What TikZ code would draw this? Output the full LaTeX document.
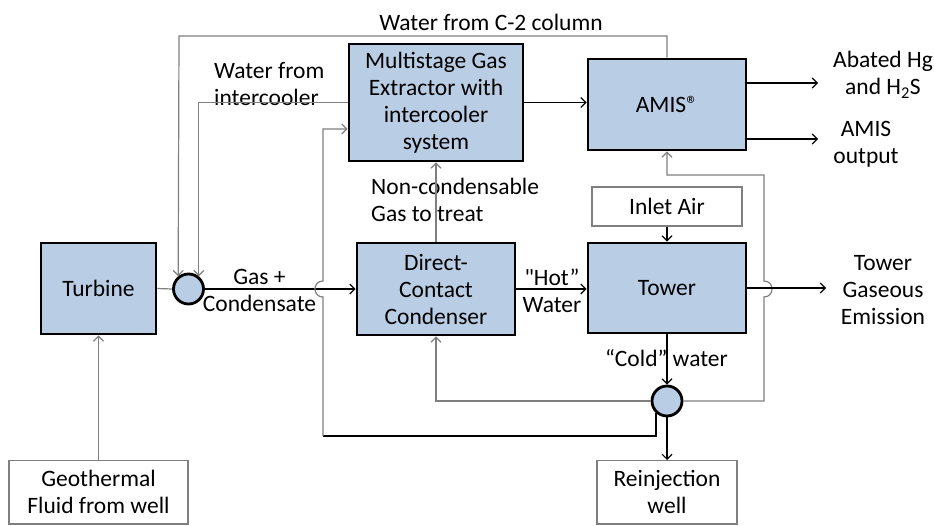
\documentclass[tikz,border=0pt]{standalone}
\usepackage{fontspec}
\setmainfont{Carlito}
\newfontfamily\plainq{Carlito}[Ligatures=TeXOff]
\usetikzlibrary{arrows.meta}
\definecolor{boxblue}{HTML}{B9CDE5}
\definecolor{lg}{HTML}{7F7F7F}
\begin{document}
\begin{tikzpicture}[x=1pt,y=-1pt,
  txt/.style={font=\fontsize{23.5}{27}\selectfont, inner sep=0pt, align=center},
  blk/.style={txt, draw=black, line width=2.8pt, fill=boxblue, rectangle},
  wbox/.style={txt, draw=lg, line width=1.3pt, fill=white, rectangle},
  mix/.style={circle, draw=black, line width=2.8pt, fill=boxblue, minimum size=30pt, inner sep=0pt},
  ln/.style={line width=1.2pt, draw=lg},
  bl/.style={line width=1.2pt, draw=black},
  arr/.style={-{Straight Barb[length=5pt,width=10pt]}},
]
\useasboundingbox (0,0) rectangle (934,525);
\clip (0,0) rectangle (934,525);
\fill[white] (0,0) rectangle (934,525);

% blocks
\node[blk, minimum width=115pt, minimum height=91pt] (turb) at (98.5,288.5) {Turbine};
\node[blk, minimum width=174pt, minimum height=117pt] (mge) at (436,102.5) {Multistage Gas\\Extractor with\\intercooler\\system};
\node[blk, minimum width=158pt, minimum height=91pt] (amis) at (667,104.5) {AMIS®};
\node[blk, minimum width=158pt, minimum height=92pt] (dcc) at (436,289) {Direct-\\Contact\\Condenser};
\node[blk, minimum width=158pt, minimum height=90pt] (tower) at (667,288) {Tower};
\node[wbox, minimum width=150pt, minimum height=39pt] (inlet) at (667,206.5) {Inlet Air};
\node[wbox, minimum width=179pt, anchor=north, inner ysep=10pt] (geo) at (98.5,460) {Geothermal\\Fluid from well};
\node[wbox, minimum width=140pt, anchor=north, inner ysep=10pt] (reinj) at (667,460) {Reinjection\\well};
\node[mix] (c1) at (188.5,289) {};
\node[mix] (c2) at (667,401) {};

% labels
\node[txt] (lc2) at (491,22) {Water from C-2 column};
\node[txt, align=left, anchor=west] (lic) at (214,84) {Water from\\intercooler};
\node[txt] (lgc) at (259.5,290) {Gas +\\Condensate};
\node[txt, align=left, anchor=west] (lncg) at (371,200) {Non-condensable\\Gas to treat};
\node[txt] (lhot) at (552,291) {{\plainq"}Hot”\\Water};
\node[txt] (lcold) at (666.5,358) {“Cold” water};
\node[txt] (labat) at (883,75) {Abated Hg\\and H\textsubscript{2}S};
\node[txt] (lout) at (866,144) {AMIS\\output};
\node[txt] (lgas) at (883,290) {Tower\\Gaseous\\Emission};

% coordinates
\coordinate (t1) at (667,36);
\coordinate (t2) at (179,36);
\coordinate (o1) at (818,83);
\coordinate (o2) at (818,139);
\coordinate (r1) at (764,401);
\coordinate (r2) at (764,297);
\coordinate (r3) at (764,281);
\coordinate (r4) at (764,175);
\coordinate (r5) at (667,175);
\coordinate (e1) at (826,288);
\coordinate (d1) at (436,401);
\coordinate (b0) at (323,436);
\coordinate (h1) at (323,297);
\coordinate (h2) at (323,281);
\coordinate (m1) at (323,129);

% connectors
\draw[ln, arr] (geo) -- (turb);
\draw[ln] (turb.east) -- (c1.west);
\draw[bl, arr] (c1) -- (dcc);
\draw[ln, arr] (amis.north) -- (t1) -- (t2) -- (c1.129);
\draw[ln, arr] (mge.west) -- (mge.west -| c1.51) -- (c1.51);
\draw[bl, arr] (mge.east) -- (mge.east -| amis.west);
\draw[bl, arr] (o1 -| amis.east) -- (o1);
\draw[bl, arr] (o2 -| amis.east) -- (o2);
\draw[ln, arr] (c2.east) -- (r1) -- (r2) .. controls +(10.67,0) and +(10.67,0) .. (r3) -- (r4) -- (r5) -- (amis.south);
\draw[bl, arr] (tower.east) -- (e1);
\draw[bl, arr] (inlet) -- (tower);
\draw[bl, arr] (dcc.east) -- (dcc.east -| tower.west);
\draw[ln, arr] (dcc) -- (mge);
\draw[bl, arr] (tower) -- (c2);
\draw[ln, arr] (c2.west) -- (d1) -- (dcc.south);
\draw[bl, arr] (c2) -- (reinj);
\draw[bl] (c2.228) -- (c2.228 |- b0) -- (b0);
\draw[ln, arr] (b0) -- (h1) .. controls +(-10.67,0) and +(-10.67,0) .. (h2) -- (m1) -- (m1 -| mge.west);
\end{tikzpicture}
\end{document}
